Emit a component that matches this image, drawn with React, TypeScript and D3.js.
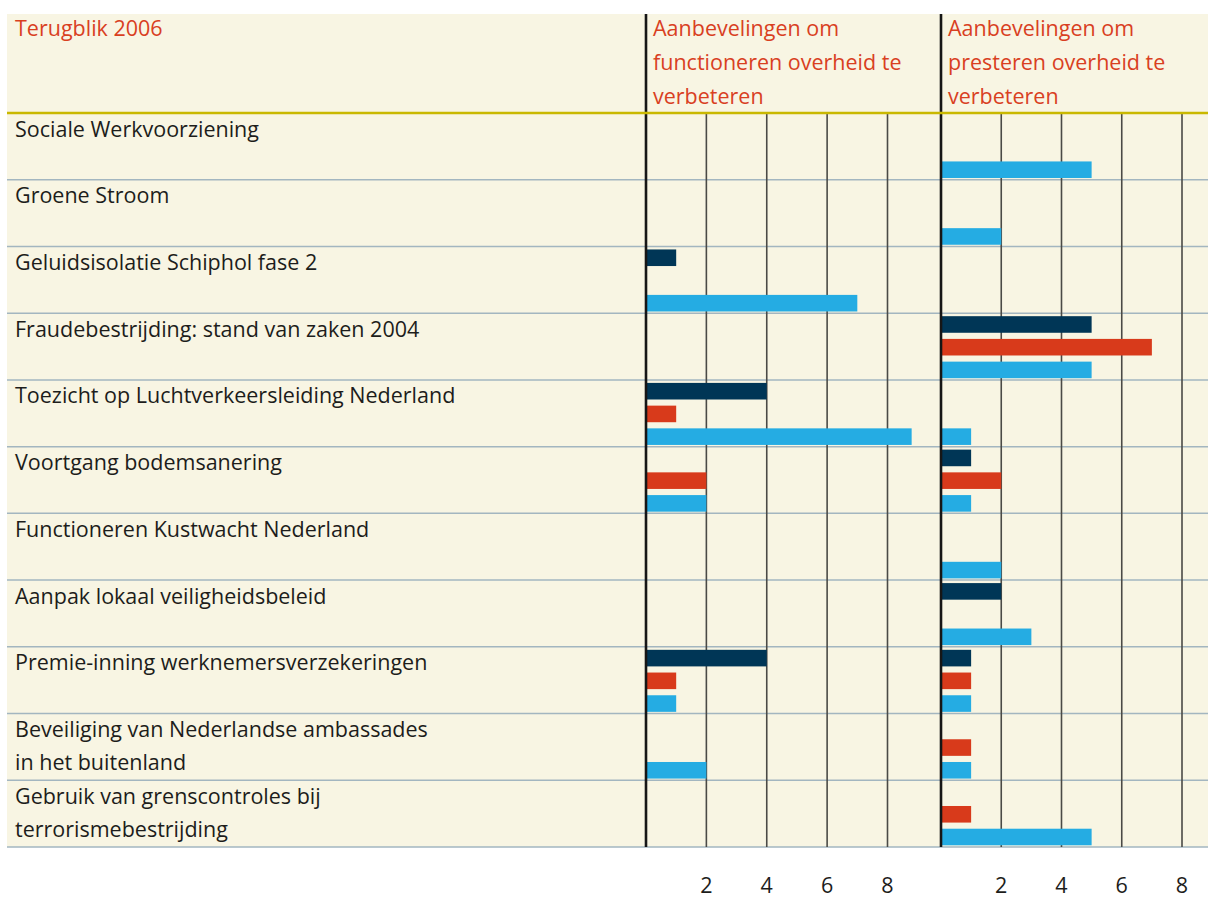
import React from "react";
import * as d3 from "d3";

const categories = [
  ["Sociale Werkvoorziening"],
  ["Groene Stroom"],
  ["Geluidsisolatie Schiphol fase 2"],
  ["Fraudebestrijding: stand van zaken 2004"],
  ["Toezicht op Luchtverkeersleiding Nederland"],
  ["Voortgang bodemsanering"],
  ["Functioneren Kustwacht Nederland"],
  ["Aanpak lokaal veiligheidsbeleid"],
  ["Premie-inning werknemersverzekeringen"],
  ["Beveiliging van Nederlandse ambassades", "in het buitenland"],
  ["Gebruik van grenscontroles bij", "terrorismebestrijding"],
];

const series = ["donker", "rood", "lichtblauw"];

// aanbevelingen om functioneren overheid te verbeteren
const functDonker = [0, 0, 1, 0, 4, 0, 0, 0, 4, 0, 0];
const functRood = [0, 0, 0, 0, 1, 2, 0, 0, 1, 0, 0];
const functBlauw = [0, 0, 7, 0, 8.8, 2, 0, 0, 1, 2, 0];

// aanbevelingen om presteren overheid te verbeteren
const prestDonker = [0, 0, 0, 5, 0, 1, 0, 2, 1, 0, 0];
const prestRood = [0, 0, 0, 7, 0, 2, 0, 0, 1, 1, 1];
const prestBlauw = [5, 2, 0, 5, 1, 1, 2, 3, 1, 1, 5];

const ticks = [2, 4, 6, 8];
const headerLeft = "Terugblik 2006";
const headerFunct = ["Aanbevelingen om", "functioneren overheid te", "verbeteren"];
const headerPrest = ["Aanbevelingen om", "presteren overheid te", "verbeteren"];

const colors: Record<string, string> = {
  donker: "#003656",
  rood: "#d83a1b",
  lichtblauw: "#25ace3",
};

const font = "'Open Sans', 'Noto Sans', sans-serif";
const fs = 21.5;

export default function App() {
  const top = 14;
  const bodyTop = 113;
  const bodyBottom = 847;

  const y = d3
    .scaleBand<number>()
    .domain(d3.range(categories.length))
    .range([bodyTop, bodyBottom]);

  const slot = d3
    .scaleBand<string>()
    .domain(series)
    .range([3, y.bandwidth() - 1.7])
    .paddingInner(0.27);

  const xFunct = d3.scaleLinear().domain([0, 8]).range([646, 887.5]);
  const xPrest = d3.scaleLinear().domain([0, 8]).range([941, 1182]);

  const panels = [
    { x: xFunct, data: [functDonker, functRood, functBlauw], header: headerFunct },
    { x: xPrest, data: [prestDonker, prestRood, prestBlauw], header: headerPrest },
  ];

  return (
    <svg
      width={1208}
      height={900}
      style={{ position: "absolute", left: 0, top: 0, fontFamily: font }}
    >
      <rect x={7} y={top} width={1201} height={bodyBottom - top} fill="#f8f5e3" />

      {/* row separators */}
      {categories.map((_, i) => (
        <line
          key={"sep" + i}
          x1={7}
          x2={1208}
          y1={(y(i) as number) + y.bandwidth()}
          y2={(y(i) as number) + y.bandwidth()}
          stroke="#a3b6c0"
          strokeWidth={1.5}
        />
      ))}

      {/* gridlines */}
      {panels.map((p, pi) =>
        ticks.map((t) => (
          <line
            key={"g" + pi + t}
            x1={p.x(t)}
            x2={p.x(t)}
            y1={bodyTop}
            y2={bodyBottom}
            stroke="#4a4a46"
            strokeWidth={1.6}
          />
        ))
      )}

      {/* bars */}
      {panels.map((p, pi) =>
        p.data.map((vals, si) =>
          vals.map((v, ci) =>
            v > 0 ? (
              <rect
                key={`b${pi}-${si}-${ci}`}
                x={p.x(0)}
                y={(y(ci) as number) + (slot(series[si]) as number)}
                width={p.x(v) - p.x(0)}
                height={slot.bandwidth()}
                fill={colors[series[si]]}
              />
            ) : null
          )
        )
      )}

      {/* axes */}
      {panels.map((p, pi) => (
        <line
          key={"ax" + pi}
          x1={p.x(0)}
          x2={p.x(0)}
          y1={top}
          y2={bodyBottom}
          stroke="#161616"
          strokeWidth={2.6}
        />
      ))}

      {/* header line */}
      <line x1={7} x2={1208} y1={bodyTop} y2={bodyTop} stroke="#c9b800" strokeWidth={2.5} />

      {/* headers */}
      <text x={15} y={36} fill="#d9401f" fontSize={fs}>
        {headerLeft}
      </text>
      {panels.map((p, pi) => (
        <text key={"h" + pi} fill="#d9401f" fontSize={fs}>
          {p.header.map((l, li) => (
            <tspan key={li} x={p.x(0) + 7} y={36 + li * 34}>
              {l}
            </tspan>
          ))}
        </text>
      ))}

      {/* category labels */}
      {categories.map((lines, i) => (
        <text key={"c" + i} fill="#1d1d1b" fontSize={fs}>
          {lines.map((l, li) => (
            <tspan key={li} x={15} y={(y(i) as number) + 23.5 + li * 33}>
              {l}
            </tspan>
          ))}
        </text>
      ))}

      {/* tick labels */}
      {panels.map((p, pi) =>
        ticks.map((t) => (
          <text
            key={"t" + pi + t}
            x={p.x(t)}
            y={893}
            textAnchor="middle"
            fill="#1d1d1b"
            fontSize={fs}
          >
            {t}
          </text>
        ))
      )}
    </svg>
  );
}
